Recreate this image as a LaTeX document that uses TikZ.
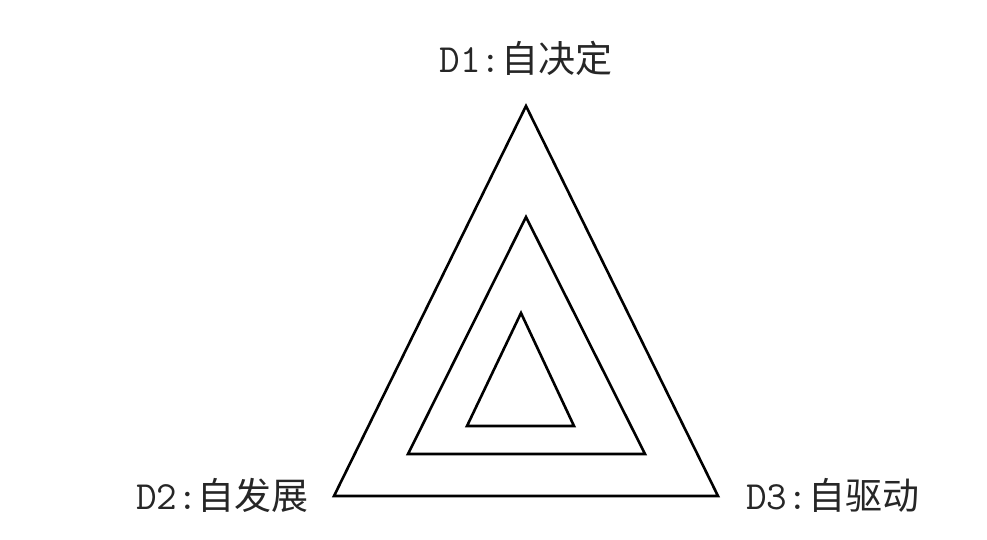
\documentclass[tikz,border=0pt]{standalone}
\usepackage{fontspec}
\newfontfamily\cjk{Noto Sans CJK SC}[Scale=1]
\tikzset{
  tri/.style={draw=black,line width=2.6pt,line join=miter},
  lab/.style={inner sep=0pt,font=\fontsize{37}{42}\selectfont,text=black!85}
}
\newcommand{\lat}[1]{{\ttfamily\fontsize{40}{42}\selectfont #1}}
\begin{document}
\begin{tikzpicture}[x=1pt,y=-1pt]
\useasboundingbox (0,0) rectangle (987,539);
\draw[tri] (526,106) -- (334,496) -- (718,496) -- cycle;
\draw[tri] (526,217) -- (408,454) -- (645,454) -- cycle;
\draw[tri] (521,313) -- (467,426) -- (574,426) -- cycle;
\node[lab] (d1) at (526,58) {\lat{D1:}\cjk 自决定};
\node[lab,anchor=east] (d2) at (309,495) {\lat{D2:}\cjk 自发展};
\node[lab,anchor=west] (d3) at (746,495) {\lat{D3:}\cjk 自驱动};
\end{tikzpicture}
\end{document}
